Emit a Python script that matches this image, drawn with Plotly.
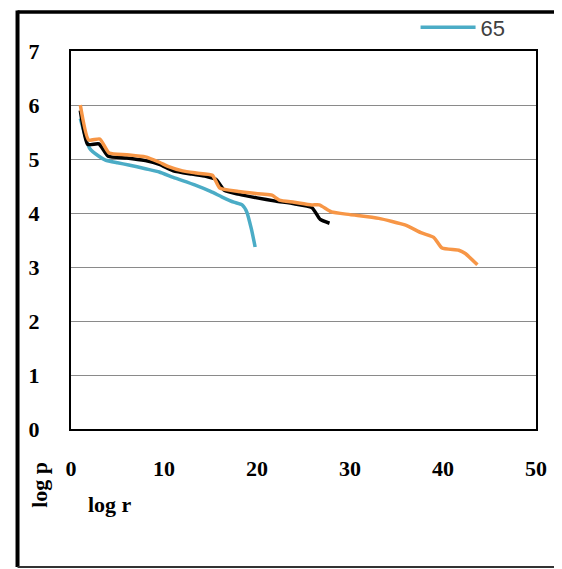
import plotly.graph_objects as go

# Series "65" (blue)
blue_x = [1, 2, 3, 3.7, 5, 6.2, 8, 9.5, 11, 13.3, 15, 16.2, 17.5, 18.4, 18.9, 19.4, 19.8]
blue_y = [5.75, 5.2, 5.05, 4.98, 4.93, 4.89, 4.82, 4.76, 4.66, 4.52, 4.4, 4.3, 4.2, 4.15, 4.02, 3.7, 3.37]

# Black series
black_x = [1, 1.8, 3, 4, 6, 8, 9.5, 11, 13, 14.5, 15.6, 16.5, 18, 20, 22, 24, 25.9, 26.8, 27.8]
black_y = [5.9, 5.27, 5.28, 5.05, 5.02, 4.97, 4.9, 4.78, 4.72, 4.68, 4.62, 4.42, 4.35, 4.28, 4.22, 4.17, 4.1, 3.88, 3.81]

# Orange series
orange_x = [1, 1.9, 3.1, 4.1, 6, 8, 9.5, 10.5, 12, 13.5, 15.2, 16, 18, 20.5, 21.6, 22.4, 24, 25.9,
            26.7, 28, 30, 33.1, 35.9, 37.7, 39, 39.9, 41.7, 42.4, 43.7]
orange_y = [6.0, 5.35, 5.37, 5.11, 5.08, 5.04, 4.94, 4.86, 4.78, 4.74, 4.7, 4.46, 4.4, 4.35, 4.33, 4.24,
            4.2, 4.15, 4.15, 4.02, 3.97, 3.9, 3.78, 3.63, 3.55, 3.35, 3.31, 3.25, 3.04]

x_ticks = [0, 10, 20, 30, 40, 50]
y_ticks = [0, 1, 2, 3, 4, 5, 6, 7]

fig = go.Figure()
fig.add_trace(go.Scatter(x=blue_x, y=blue_y, mode="lines", name="65",
                         line=dict(color="#4BACC6", width=3.5, shape="spline", smoothing=0.5)))
fig.add_trace(go.Scatter(x=black_x, y=black_y, mode="lines", name="black", showlegend=False,
                         line=dict(color="#000000", width=3.5, shape="spline", smoothing=0.5)))
fig.add_trace(go.Scatter(x=orange_x, y=orange_y, mode="lines", name="orange", showlegend=False,
                         line=dict(color="#F79646", width=3.5, shape="spline", smoothing=0.5)))

tickfont = dict(family="Liberation Serif", size=22, color="#000000")

fig.update_layout(
    width=554, height=561,
    margin=dict(l=63, r=26, t=43, b=140, autoexpand=False),
    paper_bgcolor="white", plot_bgcolor="white",
    showlegend=True,
    legend=dict(x=0.741, y=1.062, xanchor="left", yanchor="middle", itemwidth=55,
                font=dict(family="Liberation Sans", size=22, color="#404040"),
                bgcolor="rgba(0,0,0,0)"),
    xaxis=dict(range=[0, 50], tickvals=x_ticks, ticktext=["<b>%d</b>" % v for v in x_ticks],
               showgrid=False, zeroline=False, showline=True, linecolor="black",
               linewidth=2, mirror=True, ticks="", tickfont=tickfont,
               ticklabelstandoff=19, automargin=False),
    yaxis=dict(range=[0, 7], tickvals=y_ticks, ticktext=["<b>%d</b>" % v for v in y_ticks],
               showgrid=True, gridcolor="#8a8a8a", gridwidth=1, zeroline=False,
               showline=True, linecolor="black", linewidth=2, mirror=True, ticks="",
               tickfont=tickfont, ticklabelstandoff=25, automargin=False),
    annotations=[
        dict(text="<b>log p</b>", xref="paper", yref="paper", x=-0.067, y=-0.148,
             xanchor="center", yanchor="middle",
             showarrow=False, textangle=-90, font=dict(family="Liberation Serif", size=22, color="black")),
        dict(text="<b>log r</b>", xref="paper", yref="paper", x=0.084, y=-0.201,
             xanchor="center", yanchor="middle",
             showarrow=False, font=dict(family="Liberation Serif", size=22, color="black")),
    ],
    shapes=[
        dict(type="line", xref="paper", yref="paper", x0=-0.115, x1=-0.115, y0=-0.365, y1=1.107,
             line=dict(color="black", width=4)),
        dict(type="line", xref="paper", yref="paper", x0=-0.115, x1=1.052, y0=1.103, y1=1.103,
             line=dict(color="black", width=3.5)),
        dict(type="line", xref="paper", yref="paper", x0=1.052, x1=1.052, y0=-0.365, y1=1.103,
             line=dict(color="#9a9a9a", width=1.5)),
        dict(type="line", xref="paper", yref="paper", x0=-0.115, x1=1.052, y0=-0.365, y1=-0.365,
             line=dict(color="#333333", width=2)),
    ],
)

fig.write_html("out.html")
